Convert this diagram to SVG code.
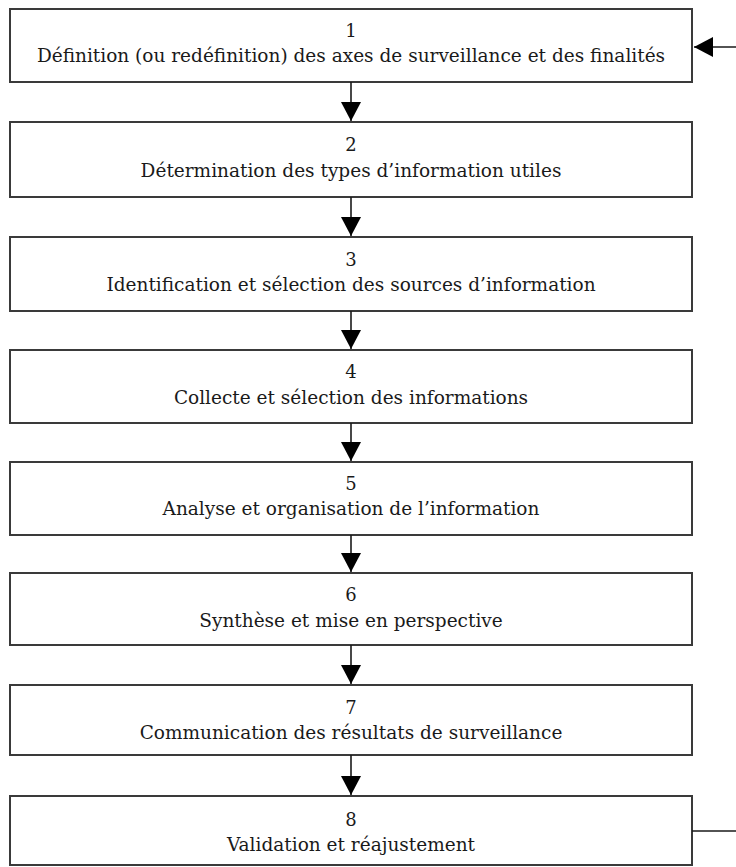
<svg xmlns="http://www.w3.org/2000/svg" width="736" height="867" viewBox="0 0 736 867">
<style>
  .box { fill: #ffffff; stroke: #3a3a3a; stroke-width: 2; }
  .num { font-family: "DejaVu Serif", "Liberation Serif", serif; font-size: 18px; fill: #1a1a1a; text-anchor: middle; }
  .lbl { font-family: "DejaVu Serif", "Liberation Serif", serif; font-size: 18.5px; fill: #1a1a1a; text-anchor: middle; }
  .conn { stroke: #1a1a1a; stroke-width: 1.6; fill: none; }
</style>
<defs>
  <marker id="arrow" viewBox="0 0 19 20" refX="19" refY="10" markerWidth="19" markerHeight="20" markerUnits="userSpaceOnUse" orient="auto">
    <path d="M0,0 L19,10 L0,20 z" fill="#000000"/>
  </marker>
</defs>
<rect width="736" height="867" fill="#ffffff"/>

<g id="node1">
  <rect class="box" x="10" y="9" width="682" height="73"/>
  <text class="num" x="351" y="37">1</text>
  <text class="lbl" x="351" y="62">Définition (ou redéfinition) des axes de surveillance et des finalités</text>
</g>
<g id="node2">
  <rect class="box" x="10" y="122" width="682" height="75"/>
  <text class="num" x="351" y="151">2</text>
  <text class="lbl" x="351" y="177">Détermination des types d’information utiles</text>
</g>
<g id="node3">
  <rect class="box" x="10" y="237" width="682" height="74"/>
  <text class="num" x="351" y="266">3</text>
  <text class="lbl" x="351" y="291">Identification et sélection des sources d’information</text>
</g>
<g id="node4">
  <rect class="box" x="10" y="350" width="682" height="73"/>
  <text class="num" x="351" y="378">4</text>
  <text class="lbl" x="351" y="404">Collecte et sélection des informations</text>
</g>
<g id="node5">
  <rect class="box" x="10" y="462" width="682" height="73"/>
  <text class="num" x="351" y="490">5</text>
  <text class="lbl" x="351" y="515">Analyse et organisation de l’information</text>
</g>
<g id="node6">
  <rect class="box" x="10" y="573" width="682" height="72"/>
  <text class="num" x="351" y="601">6</text>
  <text class="lbl" x="351" y="627">Synthèse et mise en perspective</text>
</g>
<g id="node7">
  <rect class="box" x="10" y="685" width="682" height="70"/>
  <text class="num" x="351" y="714">7</text>
  <text class="lbl" x="351" y="739">Communication des résultats de surveillance</text>
</g>
<g id="node8">
  <rect class="box" x="10" y="796" width="682" height="69"/>
  <text class="num" x="351" y="826">8</text>
  <text class="lbl" x="351" y="851">Validation et réajustement</text>
</g>

<g id="connectors">
  <line class="conn" x1="351" y1="82" x2="351" y2="121" marker-end="url(#arrow)"/>
  <line class="conn" x1="351" y1="197" x2="351" y2="236" marker-end="url(#arrow)"/>
  <line class="conn" x1="351" y1="311" x2="351" y2="349" marker-end="url(#arrow)"/>
  <line class="conn" x1="351" y1="423" x2="351" y2="461" marker-end="url(#arrow)"/>
  <line class="conn" x1="351" y1="535" x2="351" y2="572" marker-end="url(#arrow)"/>
  <line class="conn" x1="351" y1="645" x2="351" y2="684" marker-end="url(#arrow)"/>
  <line class="conn" x1="351" y1="755" x2="351" y2="795" marker-end="url(#arrow)"/>
  <line class="conn" x1="692" y1="831" x2="736" y2="831"/>
  <line class="conn" x1="736" y1="47" x2="694" y2="47" marker-end="url(#arrow)"/>
</g>
</svg>
